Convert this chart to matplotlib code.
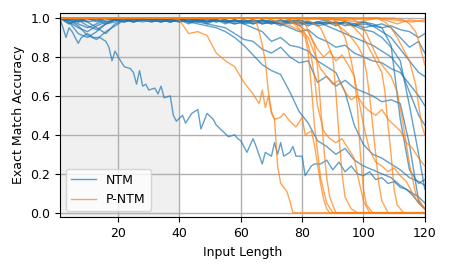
import matplotlib
matplotlib.use("Agg")
import matplotlib.pyplot as plt

# shared x grid for most NTM runs
grid_x = [1, 4, 7, 10, 13, 16, 19, 22, 25, 28, 31, 34, 37, 40, 43, 46, 49, 52, 55, 58,
          61, 64, 67, 70, 73, 76, 79, 82, 85, 88, 91, 94, 97, 100, 103, 106, 109, 112, 115, 118, 120]

# NTM runs
ntm1_x = [1, 3, 4, 5, 7, 8, 10, 11, 12, 14, 16, 17, 18, 19, 20, 22, 24, 25, 26, 27, 28, 29, 30, 32, 33,
          34, 35, 37, 38, 39, 41, 42, 44, 46, 47, 49, 51, 52, 54, 56, 58, 59, 60, 62, 64, 65, 67, 68,
          70, 71, 72, 73, 74, 76, 77, 78, 80, 81, 83, 84, 86, 88, 90, 92, 94, 96, 98, 100, 102, 104,
          106, 108, 110, 112, 114, 116, 118, 120]
ntm1_y = [1.0, 0.90, 0.95, 0.93, 0.87, 0.90, 0.92, 0.91, 0.90, 0.90, 0.88, 0.85, 0.78, 0.83, 0.80, 0.75,
          0.74, 0.72, 0.66, 0.73, 0.65, 0.66, 0.63, 0.64, 0.61, 0.65, 0.59, 0.60, 0.50, 0.47, 0.50, 0.46,
          0.51, 0.53, 0.43, 0.51, 0.48, 0.45, 0.42, 0.39, 0.40, 0.38, 0.37, 0.31, 0.38, 0.34, 0.25, 0.31,
          0.29, 0.36, 0.30, 0.36, 0.29, 0.31, 0.34, 0.29, 0.29, 0.19, 0.24, 0.25, 0.25, 0.27, 0.22, 0.26,
          0.21, 0.24, 0.20, 0.19, 0.21, 0.17, 0.18, 0.15, 0.16, 0.13, 0.12, 0.09, 0.05, 0.02]
ntm2_y = [1.00, 0.97, 0.99, 1.00, 0.98, 1.00, 0.99, 1.00, 0.99, 1.00,
          0.99, 1.00, 0.98, 0.99, 0.98, 0.97, 0.96, 0.95, 0.93, 0.90,
          0.86, 0.81, 0.76, 0.73, 0.71, 0.62, 0.52, 0.46, 0.37, 0.34,
          0.30, 0.33, 0.27, 0.24, 0.22, 0.20, 0.18, 0.14, 0.11, 0.08, 0.05]
ntm3_y = [1.00, 0.98, 0.95, 0.93, 0.96, 0.98, 0.99, 0.98, 1.00, 0.99,
          0.98, 0.99, 1.00, 0.99, 0.98, 0.98, 0.97, 0.96, 0.95, 0.92,
          0.89, 0.88, 0.84, 0.82, 0.85, 0.80, 0.77, 0.78, 0.67, 0.70,
          0.65, 0.68, 0.64, 0.62, 0.60, 0.57, 0.58, 0.56, 0.35, 0.06, 0.02]
ntm4_y = [1.00, 0.99, 0.97, 0.95, 0.97, 0.99, 1.00, 0.99, 0.98, 1.00,
          0.99, 0.98, 1.00, 0.99, 1.00, 0.98, 0.99, 0.99, 0.98, 0.99,
          0.98, 0.99, 0.97, 0.98, 0.99, 0.97, 0.98, 0.97, 0.98, 0.96,
          0.94, 0.92, 0.90, 0.88, 0.86, 0.83, 0.80, 0.74, 0.62, 0.50, 0.45]
ntm5_y = [1.00, 1.00, 0.99, 0.96, 0.94, 0.97, 0.99, 0.98, 1.00, 0.99,
          1.00, 0.99, 0.98, 1.00, 0.99, 0.99, 0.98, 1.00, 0.99, 0.98,
          0.99, 0.98, 0.99, 0.97, 0.99, 0.98, 0.99, 0.97, 0.98, 0.99,
          0.97, 0.98, 0.97, 0.98, 0.96, 0.93, 0.90, 0.84, 0.78, 0.72, 0.70]
ntm6_y = [1.00, 0.99, 0.98, 1.00, 0.99, 0.97, 0.98, 1.00, 0.99, 0.98,
          0.99, 1.00, 0.99, 0.98, 0.99, 1.00, 0.98, 0.99, 0.97, 0.99,
          0.98, 0.97, 0.99, 0.98, 0.96, 0.98, 0.97, 0.98, 0.96, 0.97,
          0.98, 0.96, 0.97, 0.95, 0.96, 0.95, 0.86, 0.48, 0.22, 0.15, 0.17]
ntm7_y = [1.00, 0.98, 0.92, 0.90, 0.93, 0.97, 0.99, 1.00, 0.98, 0.99,
          1.00, 0.99, 0.98, 0.99, 1.00, 0.99, 0.99, 0.98, 0.99, 0.97,
          0.98, 0.99, 0.98, 0.97, 0.98, 0.99, 0.96, 0.98, 0.97, 0.98,
          0.97, 0.98, 0.96, 0.97, 0.96, 0.97, 0.95, 0.90, 0.85, 0.88, 0.82]
ntm8_y = [1.00, 0.99, 0.96, 0.91, 0.89, 0.93, 0.96, 0.99, 0.98, 1.00,
          0.99, 0.98, 0.99, 1.00, 0.98, 0.99, 0.97, 0.99, 0.98, 0.99,
          0.97, 0.98, 0.99, 0.98, 0.97, 0.99, 0.98, 0.96, 0.98, 0.97,
          0.98, 0.97, 0.96, 0.98, 0.97, 0.95, 0.96, 0.94, 0.93, 0.90, 0.92]
ntm9_y = [1.00, 0.97, 0.99, 0.98, 0.95, 0.92, 0.97, 0.99, 1.00, 0.99,
          0.98, 1.00, 0.99, 0.98, 0.99, 0.98, 1.00, 0.98, 0.99, 0.98,
          0.99, 0.97, 0.98, 0.99, 0.97, 0.98, 0.99, 0.98, 0.97, 0.98,
          0.96, 0.98, 0.96, 0.94, 0.93, 0.90, 0.85, 0.78, 0.55, 0.30, 0.12]
ntm10_y = [1.00, 1.00, 0.98, 0.99, 1.00, 0.98, 0.99, 1.00, 0.98, 0.99,
           1.00, 0.99, 0.98, 0.99, 0.97, 0.99, 0.98, 0.99, 0.98, 0.97,
           0.98, 0.99, 0.97, 0.98, 0.97, 0.95, 0.93, 0.94, 0.90, 0.88,
           0.85, 0.86, 0.82, 0.80, 0.78, 0.77, 0.74, 0.72, 0.66, 0.60, 0.55]
ntm11_y = [1.00, 0.99, 1.00, 0.98, 0.99, 1.00, 0.99, 0.98, 0.99, 1.00,
           0.99, 0.98, 0.99, 1.00, 0.98, 0.99, 0.98, 0.99, 0.98, 0.99,
           0.97, 0.95, 0.93, 0.88, 0.90, 0.86, 0.85, 0.83, 0.78, 0.75,
           0.72, 0.62, 0.45, 0.35, 0.30, 0.28, 0.25, 0.22, 0.18, 0.16, 0.14]

# P-NTM runs
pntm1_x = [1, 50, 70, 95, 104, 110, 116, 120]
pntm1_y = [1.0, 1.0, 1.0, 0.99, 1.0, 0.99, 0.98, 0.99]
pntm2_x = [1, 45, 80, 92, 98, 105, 111, 115, 120]
pntm2_y = [1.0, 1.0, 1.0, 0.99, 0.98, 1.0, 0.97, 0.99, 0.98]
pntm3_x = [1, 37, 40, 43, 46, 49, 52, 55, 58, 61, 64, 66, 67, 68, 69, 70, 71, 72, 73, 75, 76, 77, 120]
pntm3_y = [1.0, 1.0, 0.99, 0.92, 0.93, 0.91, 0.82, 0.78, 0.75, 0.67, 0.61, 0.56, 0.63, 0.54, 0.60, 0.51,
           0.48, 0.24, 0.15, 0.11, 0.06, 0.0, 0.0]
pntm4_x = [1, 63, 65, 66, 67, 68, 69, 70, 71, 73, 74, 76, 78, 80, 81, 83, 84, 85, 86, 87, 88, 89, 120]
pntm4_y = [1.0, 1.0, 0.98, 0.93, 0.86, 0.78, 0.62, 0.52, 0.48, 0.49, 0.51, 0.47, 0.44, 0.49, 0.40, 0.42,
           0.35, 0.25, 0.15, 0.07, 0.02, 0.0, 0.0]
pntm5_x = [1, 68, 72, 76, 79, 81, 82, 83, 84, 85, 86, 88, 90, 120]
pntm5_y = [1.0, 1.0, 0.98, 0.96, 0.94, 0.90, 0.82, 0.65, 0.45, 0.32, 0.18, 0.05, 0.0, 0.0]
pntm6_x = [1, 74, 77, 80, 82, 84, 85, 86, 87, 88, 89, 91, 120]
pntm6_y = [1.0, 1.0, 0.98, 0.95, 0.93, 0.86, 0.75, 0.55, 0.35, 0.18, 0.08, 0.0, 0.0]
pntm7_x = [1, 80, 83, 86, 88, 90, 91, 92, 93, 94, 96, 98, 120]
pntm7_y = [1.0, 1.0, 0.98, 0.95, 0.88, 0.80, 0.62, 0.40, 0.20, 0.08, 0.02, 0.0, 0.0]
pntm8_x = [1, 78, 81, 83, 85, 87, 89, 91, 93, 95, 97, 98, 99, 100, 101, 103, 120]
pntm8_y = [1.0, 1.0, 0.97, 0.90, 0.84, 0.80, 0.83, 0.78, 0.81, 0.76, 0.70, 0.55, 0.30, 0.12, 0.04, 0.0, 0.0]
pntm9_x = [1, 86, 89, 92, 95, 98, 100, 101, 102, 103, 104, 105, 106, 108, 120]
pntm9_y = [1.0, 1.0, 0.98, 0.96, 0.92, 0.86, 0.80, 0.72, 0.60, 0.45, 0.30, 0.15, 0.06, 0.0, 0.0]
pntm10_x = [1, 90, 94, 97, 100, 102, 104, 106, 107, 108, 109, 110, 111, 113, 120]
pntm10_y = [1.0, 1.0, 0.98, 0.95, 0.90, 0.84, 0.78, 0.72, 0.62, 0.45, 0.30, 0.12, 0.04, 0.0, 0.0]
pntm11_x = [1, 77, 79, 81, 83, 84, 85, 87, 89, 91, 93, 95, 97, 98, 100, 102, 120]
pntm11_y = [1.0, 1.0, 0.97, 0.92, 0.80, 0.70, 0.55, 0.42, 0.38, 0.36, 0.38, 0.33, 0.28, 0.20, 0.06, 0.0, 0.0]
pntm12_x = [1, 90, 92, 94, 96, 98, 100, 102, 104, 106, 108, 110, 112, 114, 116, 118, 120]
pntm12_y = [1.0, 1.0, 0.96, 0.90, 0.78, 0.62, 0.45, 0.32, 0.26, 0.24, 0.21, 0.23, 0.19, 0.16, 0.10, 0.05, 0.02]
pntm13_x = [1, 96, 99, 101, 103, 105, 107, 109, 111, 113, 115, 117, 119, 120]
pntm13_y = [1.0, 1.0, 0.97, 0.92, 0.85, 0.78, 0.74, 0.70, 0.62, 0.45, 0.25, 0.10, 0.04, 0.02]
pntm14_x = [1, 104, 107, 109, 111, 113, 115, 117, 118, 119, 120]
pntm14_y = [1.0, 1.0, 0.98, 0.95, 0.90, 0.84, 0.78, 0.66, 0.55, 0.45, 0.40]
pntm15_x = [1, 75, 78, 80, 82, 84, 86, 88, 90, 92, 94, 96, 98, 100, 102, 104, 106, 108, 110, 112,
            114, 116, 118, 120]
pntm15_y = [1.0, 1.0, 0.96, 0.93, 0.90, 0.82, 0.74, 0.70, 0.66, 0.68, 0.62, 0.58, 0.60, 0.55, 0.52,
            0.50, 0.53, 0.48, 0.45, 0.42, 0.36, 0.33, 0.28, 0.24]
pntm16_x = [1, 110, 113, 115, 117, 118, 119, 120]
pntm16_y = [1.0, 1.0, 0.99, 0.97, 0.93, 0.88, 0.82, 0.76]

ntm_runs = [(ntm1_x, ntm1_y)] + [(grid_x, y) for y in
            [ntm2_y, ntm3_y, ntm4_y, ntm5_y, ntm6_y, ntm7_y, ntm8_y, ntm9_y, ntm10_y, ntm11_y]]
pntm_runs = [(pntm1_x, pntm1_y), (pntm2_x, pntm2_y), (pntm3_x, pntm3_y), (pntm4_x, pntm4_y),
             (pntm5_x, pntm5_y), (pntm6_x, pntm6_y), (pntm7_x, pntm7_y), (pntm8_x, pntm8_y),
             (pntm9_x, pntm9_y), (pntm10_x, pntm10_y), (pntm11_x, pntm11_y), (pntm12_x, pntm12_y),
             (pntm13_x, pntm13_y), (pntm14_x, pntm14_y), (pntm15_x, pntm15_y), (pntm16_x, pntm16_y)]

fig = plt.figure(figsize=(4.5, 2.7), dpi=100)
ax = fig.add_axes([0.133, 0.195, 0.811, 0.757])

# training range shaded
ax.axvspan(1, 40, color='#f0f0f0', zorder=0)

for i, (x, y) in enumerate(ntm_runs):
    ax.plot(x, y, color='tab:blue', alpha=0.7, lw=1.0, label='NTM' if i == 0 else None)
for i, (x, y) in enumerate(pntm_runs):
    ax.plot(x, y, color='tab:orange', alpha=0.7, lw=1.0, label='P-NTM' if i == 0 else None)

ax.set_xlim(1, 120)
ax.set_ylim(-0.024, 1.026)
ax.set_xticks([20, 40, 60, 80, 100, 120])
ax.set_yticks([0.0, 0.2, 0.4, 0.6, 0.8, 1.0])
ax.grid(True, color='#b0b0b0', lw=1.0)
ax.set_axisbelow(True)
ax.tick_params(labelsize=9)
ax.set_xlabel('Input Length', fontsize=9)
ax.set_ylabel('Exact Match Accuracy', fontsize=9)
ax.legend(loc='lower left', fontsize=9)

fig.savefig('out.png', dpi=100)
